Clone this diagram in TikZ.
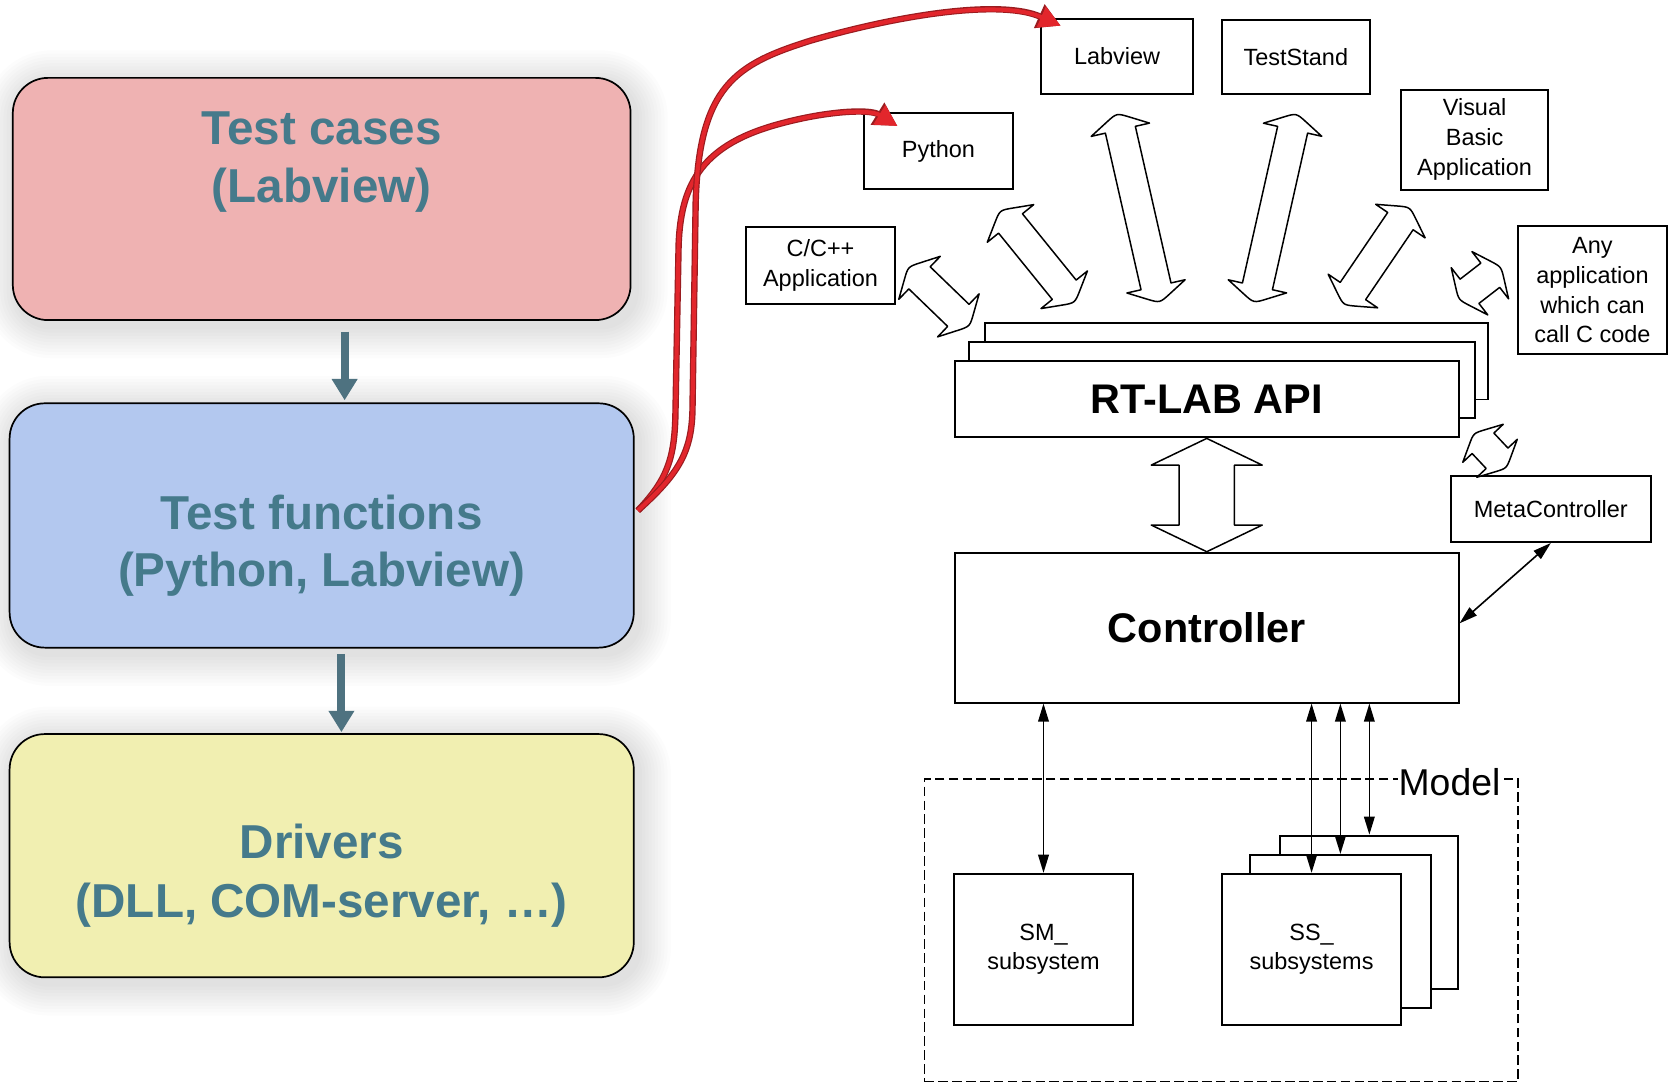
\documentclass[tikz,border=0pt]{standalone}
\usepackage{fontspec}
\setmainfont{Liberation Sans}
\usetikzlibrary{arrows.meta,calc,backgrounds}
\definecolor{tealtxt}{HTML}{457A8B}
\definecolor{pinkbox}{HTML}{EFB2B2}
\definecolor{bluebox}{HTML}{B3C8EF}
\definecolor{yelbox}{HTML}{F1EFB1}
\definecolor{arrgray}{HTML}{4E7280}
\definecolor{redcore}{HTML}{E2262C}
\definecolor{rededge}{HTML}{9A1C20}

\newcommand\blockarrow[6]{%
  \coordinate (bap) at ($(#1)!#3!(#2)$);
  \coordinate (baq) at ($(#2)!#3!(#1)$);
  \coordinate (bb1) at ($(bap)!#4!90:(#2)$);
  \coordinate (bb2) at ($(bap)!#4!-90:(#2)$);
  \coordinate (bs1) at ($(bap)!#5!90:(#2)$);
  \coordinate (bs2) at ($(bap)!#5!-90:(#2)$);
  \coordinate (bb3) at ($(baq)!#4!-90:(#1)$);
  \coordinate (bb4) at ($(baq)!#4!90:(#1)$);
  \coordinate (bs3) at ($(baq)!#5!-90:(#1)$);
  \coordinate (bs4) at ($(baq)!#5!90:(#1)$);
  \draw[blockarr] (bs1) -- (bb1) -- ($(#1)!#6!(bb1)$) .. controls (#1) .. ($(#1)!#6!(bb2)$) -- (bb2) -- (bs2)
     -- (bs4) -- (bb4) -- ($(#2)!#6!(bb4)$) .. controls (#2) .. ($(#2)!#6!(bb3)$) -- (bb3) -- (bs3) -- cycle;
}

\newcommand\softshadow[1]{%
  \begin{pgfonlayer}{background}
  \foreach \k in {1,...,10}{%
    \pgfmathsetmacro\rr{16.5+\k*1.5}%
    \fill[black, opacity=0.011, rounded corners=\rr pt]
      ($(#1.south west)+(4-\k*3,5+\k*3)$) rectangle ($(#1.north east)+(4+\k*3,5-\k*3)$);
  }
  \end{pgfonlayer}}

\begin{document}
\begin{tikzpicture}[x=0.5pt,y=-0.5pt,
  lbox/.style={draw=black, line width=0.8pt, rounded corners=16.5pt, inner sep=0pt},
  ltext/.style={text=tealtxt, font=\bfseries\fontsize{22.3}{27}\selectfont, anchor=base, inner sep=0pt},
  leftarr/.style={draw=arrgray, line width=3.75pt, -{Triangle[length=10pt,width=11.5pt]}},
  appbox/.style={draw=black, line width=0.9pt, fill=white, align=center, inner sep=0pt,
     font=\fontsize{11}{14}\selectfont},
  bigtext/.style={font=\bfseries\fontsize{19.4}{23}\selectfont},
  blockarr/.style={draw=black, line width=0.7pt, fill=white, line join=round},
  thinarr/.style={draw=black, line width=0.75pt,
     {Triangle[length=8.5pt,width=5pt]}-{Triangle[length=8.5pt,width=5pt]}},
  redunder/.style={draw=rededge, line width=3pt, -{Triangle[length=11pt,width=11.5pt]}},
  redover/.style={draw=redcore, line width=1.9pt, -{Triangle[length=10pt,width=10.3pt]}}
]
\useasboundingbox (0,0) rectangle (1568,1015);
\begin{pgfonlayer}{background}
\fill[white] (0,0) rectangle (1568,1015);
\end{pgfonlayer}

% ---------- left column ----------
\node[lbox, fill=pinkbox, minimum width=289.5pt, minimum height=113.5pt] (tc) at (301.5,186.5) {};
\node[lbox, fill=bluebox, minimum width=292.5pt, minimum height=114.5pt] (tf) at (301.5,492.5) {};
\node[lbox, fill=yelbox, minimum width=292.5pt, minimum height=114pt] (dr) at (301.5,802) {};
\softshadow{tc}
\softshadow{tf}
\softshadow{dr}

\node[ltext] (tc1) at (301.5,135.9) {Test cases};
\node[ltext] (tc2) at (301.5,189.8) {(Labview)};
\node[ltext] (tf1) at (301.5,496) {Test functions};
\node[ltext] (tf2) at (301.5,550) {(Python, Labview)};
\node[ltext] (dr1) at (301.5,805) {Drivers};
\node[ltext] (dr2) at (301.5,860) {(DLL, COM-server, …)};

\draw[leftarr] ($(tc.south)+(21.5,10)$) -- ($(tf.north)+(21.5,-2)$);
\draw[leftarr] ($(tf.south)+(18.5,5)$) -- ($(dr.north)+(18.5,-1)$);

% ---------- right diagram ----------
\node[appbox, minimum width=71pt, minimum height=35pt] (lv) at (1047,53) {Labview};
\node[appbox, minimum width=69.5pt, minimum height=34.5pt] (ts) at (1214.5,53.5) {TestStand};
\node[appbox, minimum width=69.5pt, minimum height=35.5pt] (py) at (879.5,141.5) {Python};
\node[appbox, minimum width=69pt, minimum height=47pt] (vb) at (1382,131) {Visual\\Basic\\Application};
\node[appbox, minimum width=70pt, minimum height=36pt] (cc) at (769,249) {C/C++\\Application};
\node[appbox, minimum width=69.5pt, minimum height=60pt] (any) at (1492.5,272) {Any\\application\\which can\\call C code};

\node[appbox, minimum width=236pt, minimum height=36pt] (apib) at (1159,338.4) {};
\node[appbox, minimum width=237pt, minimum height=35.8pt] (apim) at (1145,356.3) {};
\node[appbox, bigtext, minimum width=236pt, minimum height=36pt] (api) at (1131,374) {RT-LAB API};

\node[appbox, bigtext, minimum width=236pt, minimum height=70.25pt] (ctrl) at (1131,588.25) {Controller};
\node[appbox, minimum width=93.5pt, minimum height=31pt] (mc) at (1453.5,477) {MetaController};

\node[draw=black, line width=0.8pt, dash pattern=on 4.5pt off 2pt, minimum width=278.25pt, minimum height=141.85pt, inner sep=0pt] (model) at (1144.75,871.85) {};
\node[fill=white, inner sep=0.5pt, font=\fontsize{17.5}{20}\selectfont] (modellbl) at (1358.5,733.3) {Model};

\node[appbox, minimum width=83.4pt, minimum height=72pt] (ssb) at (1283.4,855.2) {};
\node[appbox, minimum width=84.5pt, minimum height=71.85pt] (ssm) at (1256.25,873.15) {};
\node[appbox, minimum width=83.55pt, minimum height=70.8pt, font=\fontsize{11}{13.5}\selectfont] (ssf) at (1229.25,889.8) {SS\_\\subsystems};
\node[appbox, minimum width=83.55pt, minimum height=70.8pt, font=\fontsize{11}{13.5}\selectfont] (sm) at (978,889.8) {SM\_\\subsystem};

% thin double arrows
\draw[thinarr] (sm.north) -- (sm.north |- ctrl.south);
\draw[thinarr] (ssf.north) -- (ssf.north |- ctrl.south);
\draw[thinarr] (ssm.north) -- (ssm.north |- ctrl.south);
\draw[thinarr] (ssb.north) -- (ssb.north |- ctrl.south);
\draw[thinarr] ($(ctrl.east)+(0,-4)$) -- (mc.south);

% block arrows
\coordinate (a1s) at (851,250);   \coordinate (a1e) at (909,306);
\coordinate (a2s) at (937,197);   \coordinate (a2e) at (1007.5,284);
\coordinate (a3s) at (1046.5,106);\coordinate (a3e) at (1087,284);
\coordinate (a4s) at (1215,106);  \coordinate (a4e) at (1175,284);
\coordinate (a5s) at (1321.5,194);\coordinate (a5e) at (1259,286);
\coordinate (a6s) at (1407,250);  \coordinate (a6e) at (1367,281);
\coordinate (a7s) at (1381,406);  \coordinate (a7e) at (1412,439);
\blockarrow{a1s}{a1e}{7.5pt}{14pt}{7.2pt}{0.4}
\blockarrow{a2s}{a2e}{8pt}{14pt}{7.2pt}{0.4}
\blockarrow{a3s}{a3e}{8pt}{14pt}{7.2pt}{0.4}
\blockarrow{a4s}{a4e}{8pt}{14pt}{7.2pt}{0.4}
\blockarrow{a5s}{a5e}{8pt}{14pt}{7.2pt}{0.4}
\blockarrow{a6s}{a6e}{6.5pt}{14pt}{7.2pt}{0.4}
\blockarrow{a7s}{a7e}{6.5pt}{13pt}{7pt}{0.4}
\blockarrow{api.south}{ctrl.north}{12.5pt}{26pt}{13pt}{0}

% red curves
\draw[redunder] ($(tf.east)+(3,-14)$) .. controls (625,450) and (632,430) .. (633,390) -- (636,230)
   .. controls (638,170) and (660,135) .. (731,116) .. controls (775,104) and (815,102) .. ($(py.north west)+(32,13)$);
\draw[redover] ($(tf.east)+(3,-14)$) .. controls (625,450) and (632,430) .. (633,390) -- (636,230)
   .. controls (638,170) and (660,135) .. (731,116) .. controls (775,104) and (815,102) .. ($(py.north west)+(32,13)$);
\draw[redunder] ($(tf.east)+(3,-14)$) .. controls (635,445) and (648,425) .. (649,385) -- (652,190)
   .. controls (655,80) and (690,60) .. (760,38) .. controls (850,12) and (940,0) .. ($(lv.north west)+(19,7)$);
\draw[redover] ($(tf.east)+(3,-14)$) .. controls (635,445) and (648,425) .. (649,385) -- (652,190)
   .. controls (655,80) and (690,60) .. (760,38) .. controls (850,12) and (940,0) .. ($(lv.north west)+(19,7)$);
\end{tikzpicture}
\end{document}
